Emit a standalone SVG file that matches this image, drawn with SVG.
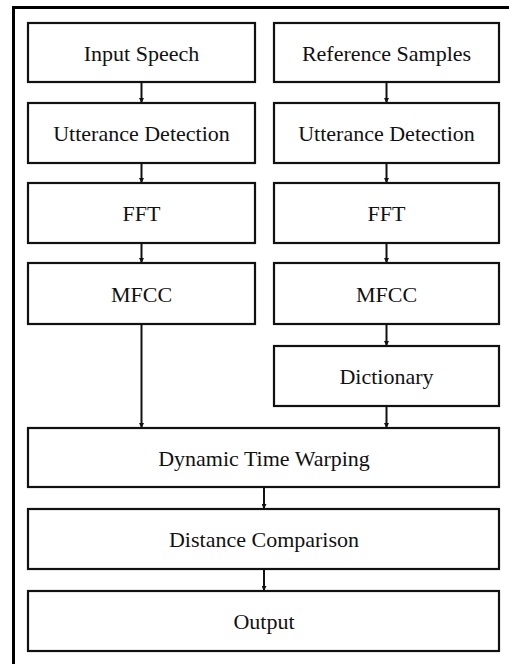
<svg xmlns="http://www.w3.org/2000/svg" width="509" height="664" viewBox="0 0 509 664">
<style>
.box{fill:#fff;stroke:#111;stroke-width:2.2}
.t{font-family:"Liberation Serif","Times New Roman",serif;font-size:22px;fill:#111;text-anchor:middle}
.c{stroke:#111;stroke-width:2;fill:none;marker-end:url(#ah)}
</style>
<defs>
<marker id="ah" viewBox="0 0 10 10" refX="10" refY="5" markerWidth="5" markerHeight="5" orient="auto" markerUnits="userSpaceOnUse">
<path d="M0,0 L10,5 L0,10 z" fill="#111"/>
</marker>
</defs>
<rect x="0" y="0" width="509" height="664" fill="#fff"/>
<path d="M13.5,664 V7.5 H509" fill="none" stroke="#000" stroke-width="3"/>
<g id="input"><rect class="box" x="28" y="23" width="227" height="59"/><text class="t" x="141.5" y="61">Input Speech</text></g>
<g id="ref"><rect class="box" x="274" y="23" width="225" height="59"/><text class="t" x="386.5" y="61">Reference Samples</text></g>
<g id="utt1"><rect class="box" x="28" y="103" width="227" height="60"/><text class="t" x="141.5" y="141">Utterance Detection</text></g>
<g id="utt2"><rect class="box" x="274" y="103" width="225" height="60"/><text class="t" x="386.5" y="141">Utterance Detection</text></g>
<g id="fft1"><rect class="box" x="28" y="183" width="227" height="60"/><text class="t" x="141.5" y="221">FFT</text></g>
<g id="fft2"><rect class="box" x="274" y="183" width="225" height="60"/><text class="t" x="386.5" y="221">FFT</text></g>
<g id="mfcc1"><rect class="box" x="28" y="263" width="227" height="61"/><text class="t" x="141.5" y="302">MFCC</text></g>
<g id="mfcc2"><rect class="box" x="274" y="263" width="225" height="61"/><text class="t" x="386.5" y="302">MFCC</text></g>
<g id="dict"><rect class="box" x="274" y="346" width="225" height="60"/><text class="t" x="386.5" y="384">Dictionary</text></g>
<g id="dtw"><rect class="box" x="28" y="428" width="471" height="59"/><text class="t" x="264" y="466">Dynamic Time Warping</text></g>
<g id="dist"><rect class="box" x="28" y="509" width="471" height="60"/><text class="t" x="264" y="547">Distance Comparison</text></g>
<g id="out"><rect class="box" x="28" y="591" width="471" height="60"/><text class="t" x="264" y="629">Output</text></g>
<g id="connectors">
<line class="c" x1="141.5" y1="82" x2="141.5" y2="103"/>
<line class="c" x1="386.5" y1="82" x2="386.5" y2="103"/>
<line class="c" x1="141.5" y1="163" x2="141.5" y2="183"/>
<line class="c" x1="386.5" y1="163" x2="386.5" y2="183"/>
<line class="c" x1="141.5" y1="243" x2="141.5" y2="263"/>
<line class="c" x1="386.5" y1="243" x2="386.5" y2="263"/>
<line class="c" x1="386.5" y1="324" x2="386.5" y2="346"/>
<line class="c" x1="141.5" y1="324" x2="141.5" y2="428"/>
<line class="c" x1="386.5" y1="406" x2="386.5" y2="428"/>
<line class="c" x1="264" y1="487" x2="264" y2="509"/>
<line class="c" x1="264" y1="569" x2="264" y2="591"/>
</g>
</svg>
